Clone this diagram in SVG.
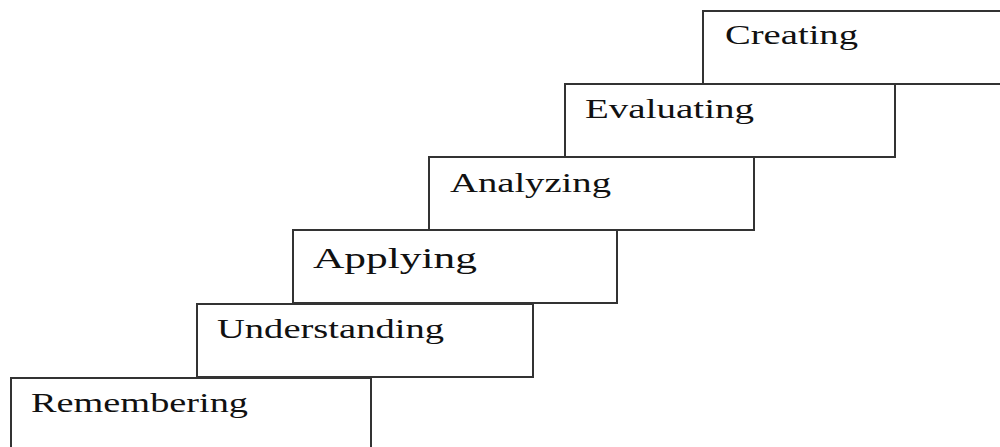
<svg xmlns="http://www.w3.org/2000/svg" width="1000" height="447" viewBox="0 0 1000 447">
<style>
.box{fill:none;stroke:#333;stroke-width:2}
.t{font-family:"Liberation Serif",serif;font-size:27px;fill:#111}
</style>
<rect width="1000" height="447" fill="#fff"/>
<g id="creating"><rect class="box" x="703" y="11" width="310" height="73"/><text class="t" x="725" y="44" textLength="133" lengthAdjust="spacingAndGlyphs">Creating</text></g>
<g id="evaluating"><rect class="box" x="565" y="84" width="330" height="73"/><text class="t" x="585" y="118" textLength="169" lengthAdjust="spacingAndGlyphs">Evaluating</text></g>
<g id="analyzing"><rect class="box" x="429" y="157" width="325" height="73"/><text class="t" x="450" y="192" textLength="161" lengthAdjust="spacingAndGlyphs">Analyzing</text></g>
<g id="applying"><rect class="box" x="293" y="230" width="324" height="73"/><text class="t" x="313" y="268" style="font-size:30px" textLength="164" lengthAdjust="spacingAndGlyphs">Applying</text></g>
<g id="understanding"><rect class="box" x="197" y="304" width="336" height="73"/><text class="t" x="217" y="338" textLength="227" lengthAdjust="spacingAndGlyphs">Understanding</text></g>
<g id="remembering"><rect class="box" x="11" y="378" width="360" height="80"/><text class="t" x="31" y="412" textLength="217" lengthAdjust="spacingAndGlyphs">Remembering</text></g>
<g id="connectors"></g>
</svg>
